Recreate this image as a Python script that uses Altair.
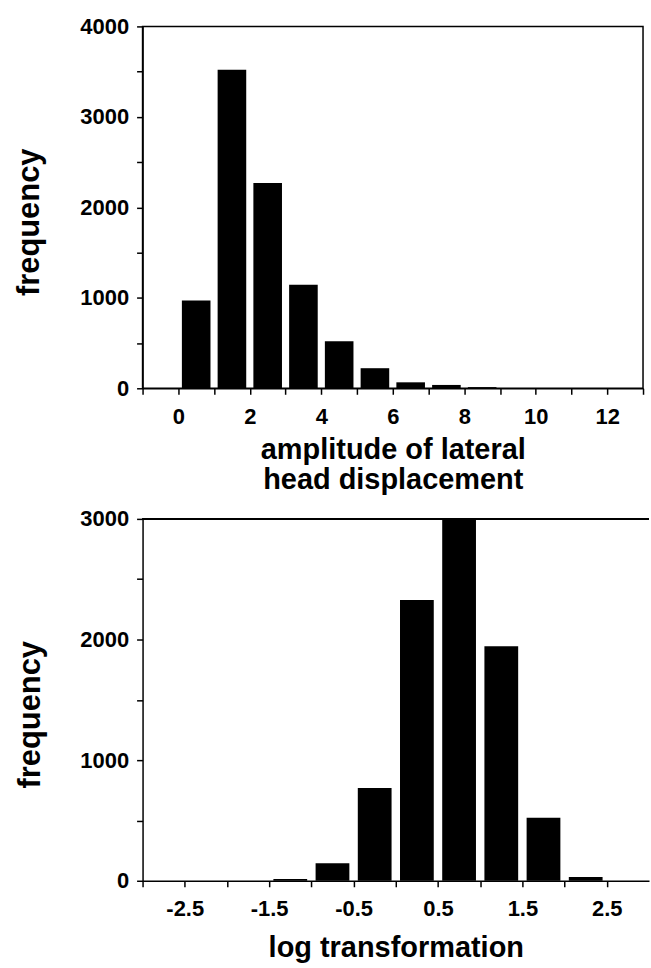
import altair as alt
import pandas as pd

# ---------------- data ----------------
top_bin_start = [0, 1, 2, 3, 4, 5, 6, 7, 8]
top_counts = [970, 3520, 2270, 1145, 520, 222, 66, 37, 13]
top_bin_width = 1.0

bot_bin_start = [-1.5, -1.0, -0.5, 0.0, 0.5, 1.0, 1.5, 2.0]
bot_counts = [14, 146, 770, 2328, 3000, 1945, 522, 32]
bot_bin_width = 0.5

top_x_ticks = [-1, 0, 1, 2, 3, 4, 5, 6, 7, 8, 9, 10, 11, 12, 13]
top_y_ticks = [0, 500, 1000, 1500, 2000, 2500, 3000, 3500, 4000]
bot_x_ticks = [-3.0, -2.5, -2.0, -1.5, -1.0, -0.5, 0.0, 0.5, 1.0, 1.5, 2.0, 2.5]
bot_y_ticks = [0, 500, 1000, 1500, 2000, 2500, 3000]

top_x_title = ["amplitude of lateral", "head displacement"]
bot_x_title = "log transformation"
y_title = "frequency"

GAP_L, GAP_R = 0.1, 0.9  # bar occupies this fraction range of each bin


def bars(starts, counts, w):
    return pd.DataFrame({
        "x0": [s + GAP_L * w for s in starts],
        "x1": [s + GAP_R * w for s in starts],
        "count": counts,
        "base": [0] * len(counts),
    })


top_df = bars(top_bin_start, top_counts, top_bin_width)
bot_df = bars(bot_bin_start, bot_counts, bot_bin_width)

TOP_W, TOP_H = 502, 363
BOT_W, BOT_H = 508, 363

FRAME = alt.ViewBackground(stroke="black", strokeWidth=1.5)

top = alt.Chart(top_df).mark_rect(color="black").encode(
    x=alt.X("x0:Q",
            scale=alt.Scale(domain=[-1, 13], nice=False, zero=False),
            axis=alt.Axis(values=top_x_ticks,
                          labelExpr="datum.value >= 0 && datum.value % 2 == 0 ? datum.label : ''",
                          title=top_x_title,
                          titleX=TOP_W / 2, titleY=70,
                          titleBaseline="alphabetic", titleAlign="center",
                          titleLineHeight=31)),
    x2="x1:Q",
    y=alt.Y("count:Q",
            scale=alt.Scale(domain=[0, 4000], nice=False),
            axis=alt.Axis(values=top_y_ticks, format="d",
                          labelExpr="datum.value % 1000 == 0 ? datum.label : ''",
                          title=y_title, titleX=-113, titleY=196,
                          titleAngle=270, titleBaseline="middle", titleAlign="center",
                          titleFontSize=31)),
    y2="base:Q",
).properties(width=TOP_W, height=TOP_H, view=FRAME)

bot_bars = alt.Chart(bot_df).mark_rect(color="black").encode(
    x=alt.X("x0:Q",
            scale=alt.Scale(domain=[-3, 3], nice=False, zero=False),
            axis=alt.Axis(values=bot_x_ticks,
                          labelExpr="abs(datum.value % 1) == 0.5 ? toString(datum.value) : ''",
                          title=bot_x_title,
                          titleX=BOT_W / 2, titleY=76,
                          titleBaseline="alphabetic", titleAlign="center")),
    x2="x1:Q",
    y=alt.Y("count:Q",
            scale=alt.Scale(domain=[0, 3000], nice=False),
            axis=alt.Axis(values=bot_y_ticks, format="d",
                          labelExpr="datum.value % 1000 == 0 ? datum.label : ''",
                          title=y_title, titleX=-112, titleY=196,
                          titleAngle=270, titleBaseline="middle", titleAlign="center",
                          titleFontSize=31)),
    y2="base:Q",
)

# top frame line of the lower panel (its right side runs off the page)
bot_top_line = alt.Chart(bot_df).mark_rule(color="black", strokeWidth=1.5).encode(
    x=alt.value(0), x2=alt.value(BOT_W), y=alt.value(0)
)

bot = alt.layer(bot_bars, bot_top_line).properties(width=BOT_W, height=BOT_H)

FONT = "Liberation Sans"

chart = alt.vconcat(top, bot, spacing=11).properties(
    padding={"left": 13, "top": 13, "right": 0, "bottom": 0},
    background="white",
).configure_view(
    stroke="transparent",
).configure_axis(
    grid=False,
    domainColor="black", domainWidth=1.5,
    tickColor="black", tickWidth=1.5, tickSize=6,
    labelFont=FONT, labelFontSize=22, labelFontWeight="bold", labelColor="black",
    labelOverlap=False, labelFlush=False, labelBound=False,
    titleFont=FONT, titleFontSize=29, titleFontWeight="bold", titleColor="black",
).configure_axisX(
    labelPadding=12,
).configure_axisY(
    labelPadding=8,
)

chart.save("out.html", embed_options={"renderer": "svg", "actions": False})
